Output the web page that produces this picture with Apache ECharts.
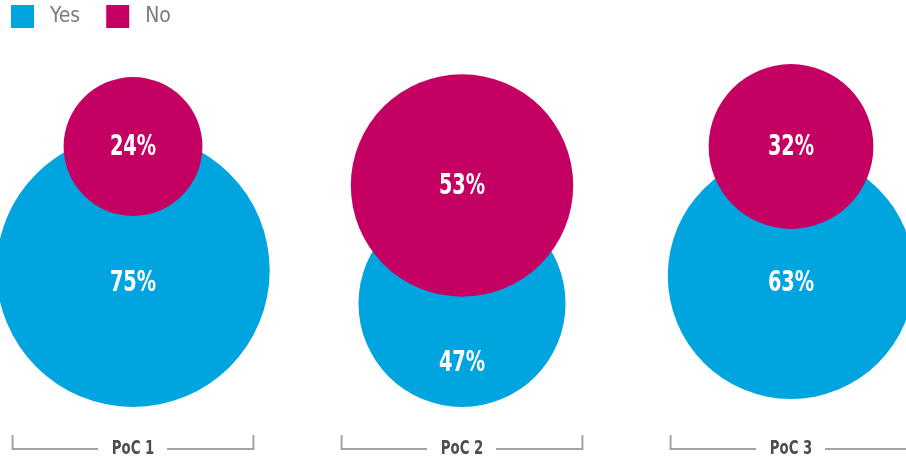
<!DOCTYPE html>
<html>
<head>
<meta charset="utf-8">
<script src="https://cdn.jsdelivr.net/npm/echarts@6/dist/echarts.min.js"></script>
<style>
  html, body { margin: 0; padding: 0; background: #fff; }
  #chart { width: 906px; height: 463px; }
</style>
</head>
<body>
<div id="chart"></div>
<script>
// ---- data ----
const categories = ['PoC 1', 'PoC 2', 'PoC 3'];
const yesValues = [75, 47, 63];
const noValues = [24, 53, 32];
const seriesNames = ['Yes', 'No'];

// ---- layout (axis units = px above the baseline) ----
const yesLift = [0, 0, 8];               // bottom of the Yes bubble above the baseline
const noCenterH = [260.5, 221.5, 260.5]; // height of the No bubble centre
const yesLabelH = [124, 44, 124];        // height of the Yes label

const COLORS = { yes: '#00a5e0', no: '#c40062', bracket: '#a3a3a3', cat: '#4d4d4d', legend: '#7b7b7b' };
const FONT = '"DejaVu Sans Condensed", "Liberation Sans Narrow", sans-serif';
const NARROW = 0.74;

function radius(v) { return 10.5 * Math.pow(v, 0.5944); }

const chart = echarts.init(document.getElementById('chart'), null, { renderer: 'canvas' });

function label(text, x, y, size, color) {
  return {
    type: 'text', z2: 10, x: x, y: y, scaleX: NARROW,
    style: { text: text, x: 0, y: 0, fill: color, fontSize: size, fontWeight: 'bold', fontFamily: FONT, align: 'center', verticalAlign: 'middle' }
  };
}

function yesItem(params, api) {
  const i = api.value(0), v = api.value(1);
  const r = radius(v);
  const bottom = api.coord([i, yesLift[i]]);
  const lab = api.coord([i, yesLabelH[i]]);
  return {
    type: 'group',
    children: [
      { type: 'circle', shape: { cx: bottom[0], cy: bottom[1] - r, r: r }, style: { fill: COLORS.yes } },
      label(v + '%', lab[0], lab[1], 29, '#fff')
    ]
  };
}
function noItem(params, api) {
  const i = api.value(0), v = api.value(1);
  const r = radius(v);
  const c = api.coord([i, noCenterH[i]]);
  return {
    type: 'group',
    children: [
      { type: 'circle', shape: { cx: c[0], cy: c[1], r: r }, style: { fill: COLORS.no } },
      label(v + '%', c[0], c[1] + 1, 29, '#fff')
    ]
  };
}
function bracketItem(params, api) {
  const i = api.value(0);
  const p = api.coord([i, 0]);
  const band = api.size([1, 0])[0];
  const half = band * 0.366;
  const y = p[1] + 42, yTop = p[1] + 28;
  const ls = { stroke: COLORS.bracket, lineWidth: 2, fill: null };
  return {
    type: 'group',
    children: [
      { type: 'polyline', shape: { points: [[p[0] - half, yTop], [p[0] - half, y], [p[0] - 35, y]] }, style: ls },
      { type: 'polyline', shape: { points: [[p[0] + 34, y], [p[0] + half, y], [p[0] + half, yTop]] }, style: ls },
      label(categories[i], p[0], y, 20, COLORS.cat)
    ]
  };
}

const option = {
  animation: false,
  legend: {
    left: 11, top: 5, padding: 0,
    itemWidth: 23, itemHeight: 23, itemGap: 26,
    icon: 'rect',
    data: seriesNames,
    textStyle: { color: COLORS.legend, fontSize: 21, fontFamily: FONT, padding: [0, 0, 0, 11] }
  },
  grid: { left: 0, right: 0, top: 0, bottom: 56 },
  xAxis: { type: 'value', min: -0.4043, max: 2.3495, show: false },
  yAxis: { type: 'value', min: 0, max: 407, show: false },
  series: [
    { name: seriesNames[0], type: 'custom', renderItem: yesItem, itemStyle: { color: COLORS.yes }, z: 2,
      data: yesValues.map((v, i) => [i, v]), clip: false },
    { name: seriesNames[1], type: 'custom', renderItem: noItem, itemStyle: { color: COLORS.no }, z: 3,
      data: noValues.map((v, i) => [i, v]), clip: false },
    { name: 'axis', type: 'custom', renderItem: bracketItem, z: 1, silent: true,
      data: categories.map((c, i) => [i]), clip: false }
  ]
};
chart.setOption(option);
</script>
</body>
</html>
